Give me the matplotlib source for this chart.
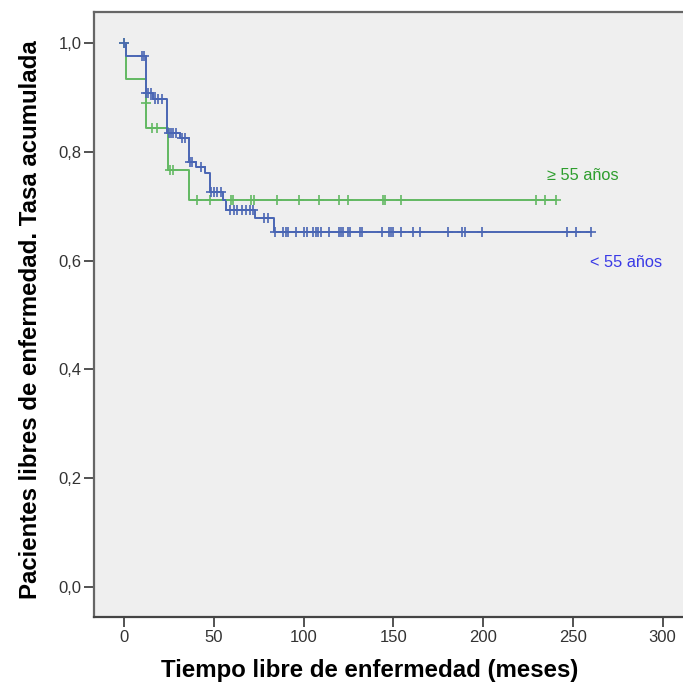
import numpy as np
import matplotlib
matplotlib.use("Agg")
import matplotlib.pyplot as plt
from matplotlib import font_manager

# ---------------- data ----------------
# Group >= 55 years (green)
old_event_times = [0, 1, 12, 12.3, 24.5, 36]
old_survival = [1.0, 0.933, 0.889, 0.844, 0.767, 0.711]
old_censor_times = [0, 12.1, 15.6, 18.4, 25.5, 27.5, 40.7, 48, 59.5, 60.5, 71, 72.5,
                    85, 97.5, 108.6, 120, 125, 144, 145.5, 154, 229.5, 234.5, 240.5]
old_end = 240.5

# Group < 55 years (blue)
young_event_times = [0, 1, 12, 16, 24, 31, 36, 40, 45, 48, 55, 57, 73, 83.5]
young_survival = [1.0, 0.976, 0.908, 0.898, 0.834, 0.826, 0.781, 0.772, 0.761,
                  0.727, 0.711, 0.693, 0.678, 0.652]
young_censor_times = [0, 10, 11, 12.5, 13.5, 15, 17, 19, 21, 25, 26, 27.5, 29, 32.5, 34,
                      37, 38, 43, 48.5, 50, 52, 54, 59, 61, 63, 66, 68, 70, 72, 78, 80,
                      84, 88.6, 90, 91.4, 96, 100, 102, 105, 107, 108, 110, 114, 120,
                      121, 122, 125, 126, 131.5, 132.6, 143.7, 147.5, 148.5, 150, 154,
                      161, 165, 180.5, 188, 190, 199.4, 247, 252, 260]
young_end = 260

series_labels = ["\u2265 55 a\u00f1os", "< 55 a\u00f1os"]
x_ticks = [0, 50, 100, 150, 200, 250, 300]
y_ticks = [0.0, 0.2, 0.4, 0.6, 0.8, 1.0]
y_tick_labels = ["0,0", "0,2", "0,4", "0,6", "0,8", "1,0"]
x_label = "Tiempo libre de enfermedad (meses)"
y_label = "Pacientes libres de enfermedad. Tasa acumulada"

# ---------------- fonts ----------------
avail = {f.name for f in font_manager.fontManager.ttflist}
narrow = "Liberation Sans Narrow" if "Liberation Sans Narrow" in avail else "Liberation Sans"
fam = [narrow, "DejaVu Sans"]

GREEN = "#62b862"
BLUE = "#4a66b4"

fig = plt.figure(figsize=(6.83, 6.88), dpi=100)
ax = fig.add_axes([94 / 683, 1 - 617 / 688, (686 - 94) / 683, (617 - 12) / 688])
ax.set_facecolor("#efefef")


def draw_km(times, surv, censors, end, color):
    t = list(times) + [end]
    s = list(surv) + [surv[-1]]
    ax.step(t, s, where="post", color=color, lw=1.4, zorder=3)
    idx = np.searchsorted(np.array(times), np.array(censors), side="right") - 1
    cs = np.array(surv)[idx]
    ax.plot(censors, cs, linestyle="none", marker="+", ms=7.5, mew=1.2,
            color=color, zorder=4)


draw_km(old_event_times, old_survival, old_censor_times, old_end, GREEN)
draw_km(young_event_times, young_survival, young_censor_times, young_end, BLUE)

ax.text(235.5, 0.757, series_labels[0], color="#2e9e2e", fontsize=11.8,
        family=fam, ha="left", va="center")
ax.text(259.6, 0.597, series_labels[1], color="#3a3ae6", fontsize=11.8,
        family=fam, ha="left", va="center")

ax.set_xlim(-16.7, 313)
ax.set_ylim(-0.055, 1.057)
ax.set_xticks(x_ticks)
ax.set_xticklabels([str(v) for v in x_ticks], family=fam, fontsize=12, color="#333333")
ax.set_yticks(y_ticks)
ax.set_yticklabels(y_tick_labels, family=fam, fontsize=12, color="#333333")
ax.tick_params(axis="both", direction="out", length=7, width=1.3, color="#444444", pad=2)

for side in ["left", "top", "right"]:
    ax.spines[side].set_color("#666666")
    ax.spines[side].set_linewidth(1.6)
ax.spines["bottom"].set_color("#444444")
ax.spines["bottom"].set_linewidth(1.6)

ax.set_xlabel(x_label, family=fam, fontsize=17.3, fontweight="bold", color="black")
ax.set_ylabel(y_label, family=fam, fontsize=17.3, fontweight="bold", color="black")
ax.xaxis.set_label_coords(0.466, -0.088)
ax.yaxis.set_label_coords(-0.108, 0.491)
ax.xaxis.label.set_va("center")
ax.yaxis.label.set_va("center")

fig.savefig("out.png", dpi=100)
